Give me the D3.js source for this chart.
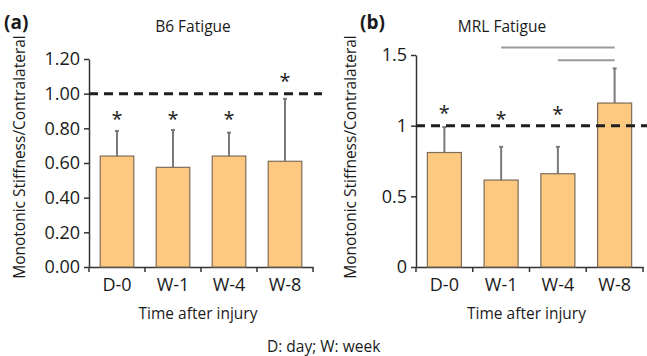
<!DOCTYPE html>
<meta charset="utf-8">
<html>
<head>
<script src="https://d3js.org/d3.v7.min.js"></script>
<style>
  body { margin: 0; background: #fff; }
  svg text { font-family: "Open Sans", sans-serif; fill: #1a1a1a; }
</style>
</head>
<body>
<div id="chart"></div>
<script>
// categories shared by both panels
const categories = ["D-0", "W-1", "W-4", "W-8"];

// (a) B6 fatigue: mean and SD (upper whisker only)
const b6Means = [0.64, 0.575, 0.64, 0.61];
const b6SD = [0.145, 0.215, 0.135, 0.36];
const b6Stars = [0.88, 0.88, 0.88, 1.10];   // asterisk heights
const b6Ticks = [0, 0.2, 0.4, 0.6, 0.8, 1.0, 1.2];

// (b) MRL fatigue
const mrlMeans = [0.81, 0.615, 0.66, 1.16];
const mrlSD = [0.18, 0.235, 0.19, 0.245];
const mrlStars = [1.12, 1.075, 1.11, null];
const mrlTicks = [0, 0.5, 1, 1.5];
// significance lines: from, to, height
const mrlBrackets = [["W-1", "W-8", 1.553], ["W-4", "W-8", 1.463]];

const width = 647, height = 356;

const svg = d3.select("#chart").append("svg")
    .attr("width", width)
    .attr("height", height)
    .attr("viewBox", [0, 0, width, height]);

function drawPanel(opt) {
    const x = d3.scaleBand(categories, [opt.left, opt.right])
        .paddingInner(0.4).paddingOuter(0.2);
    const y = d3.scaleLinear(opt.yDomain, [267, opt.yTop]);
    const g = svg.append("g");

    // y axis
    g.append("g")
        .attr("transform", `translate(${opt.left},0)`)
        .call(d3.axisLeft(y).tickValues(opt.ticks).tickFormat(opt.fmt)
            .tickSize(5).tickPadding(4).tickSizeOuter(0))
        .call(a => a.selectAll("path, line").attr("stroke", "#333").attr("stroke-width", 1.5))
        .call(a => a.selectAll("text").attr("font-size", 18)
            .attr("font-family", "'Open Sans', sans-serif").attr("fill", "#1a1a1a"));

    // x axis: labels in band centres, ticks at band boundaries
    g.append("g")
        .attr("transform", `translate(0,${y(0)})`)
        .call(d3.axisBottom(x).tickSize(0).tickPadding(11))
        .call(a => a.select(".domain").attr("stroke", "#333").attr("stroke-width", 1.5))
        .call(a => a.selectAll("text").attr("font-size", 18)
            .attr("font-family", "'Open Sans', sans-serif").attr("fill", "#1a1a1a"));
    g.append("g").selectAll("line")
        .data(d3.range(categories.length + 1))
        .join("line")
        .attr("x1", i => opt.left + i * x.step())
        .attr("x2", i => opt.left + i * x.step())
        .attr("y1", y(0))
        .attr("y2", y(0) + 5)
        .attr("stroke", "#333").attr("stroke-width", 1.5);

    // error bars
    const eb = g.append("g").attr("stroke", "#7a7a7a").attr("stroke-width", 2);
    eb.selectAll("line.v").data(categories).join("line")
        .attr("class", "v")
        .attr("x1", d => x(d) + x.bandwidth() / 2)
        .attr("x2", d => x(d) + x.bandwidth() / 2)
        .attr("y1", (d, i) => y(opt.means[i]))
        .attr("y2", (d, i) => y(opt.means[i] + opt.sd[i]));
    eb.selectAll("line.c").data(categories).join("line")
        .attr("class", "c")
        .attr("x1", d => x(d) + x.bandwidth() / 2 - 2)
        .attr("x2", d => x(d) + x.bandwidth() / 2 + 2)
        .attr("y1", (d, i) => y(opt.means[i] + opt.sd[i]))
        .attr("y2", (d, i) => y(opt.means[i] + opt.sd[i]));

    // bars
    g.append("g").selectAll("rect").data(categories).join("rect")
        .attr("x", d => x(d))
        .attr("y", (d, i) => y(opt.means[i]))
        .attr("width", x.bandwidth())
        .attr("height", (d, i) => y(0) - y(opt.means[i]))
        .attr("fill", "#fdc981")
        .attr("stroke", "#7d6c58")
        .attr("stroke-width", 1.2);

    // reference line at 1
    g.append("line")
        .attr("x1", opt.left).attr("x2", opt.dashEnd)
        .attr("y1", y(1)).attr("y2", y(1))
        .attr("stroke", "#1e1e1e").attr("stroke-width", 3)
        .attr("stroke-dasharray", "9,6");

    // asterisks
    const starSize = 20;
    g.append("g").selectAll("text")
        .data(categories.map((c, i) => [c, opt.stars[i]]).filter(d => d[1] != null))
        .join("text")
        .attr("x", d => x(d[0]) + x.bandwidth() / 2)
        .attr("y", d => y(d[1]) + starSize * 0.56)
        .attr("text-anchor", "middle")
        .attr("font-size", starSize)
        .text("*");

    // significance lines
    if (opt.brackets) {
        g.append("g").selectAll("line").data(opt.brackets).join("line")
            .attr("x1", d => x(d[0]) + x.bandwidth() / 2)
            .attr("x2", d => x(d[1]) + x.bandwidth() / 2)
            .attr("y1", d => y(d[2])).attr("y2", d => y(d[2]))
            .attr("stroke", "#9a9a9a").attr("stroke-width", 2);
    }

    // titles and labels
    g.append("text")
        .attr("x", opt.letterX).attr("y", 29)
        .attr("font-family", "'Liberation Sans', Arial, sans-serif")
        .attr("font-weight", "bold").attr("font-size", 19)
        .text(opt.letter);
    g.append("text")
        .attr("x", opt.titleX).attr("y", 32)
        .attr("text-anchor", "middle").attr("font-size", 15.5)
        .text(opt.title);
    g.append("text")
        .attr("transform", `translate(${opt.labelX},157) rotate(-90)`)
        .attr("text-anchor", "middle").attr("font-size", 15.5)
        .text("Monotonic Stiffness/Contralateral");
    g.append("text")
        .attr("x", (opt.left + opt.right) / 2 - 3).attr("y", 319)
        .attr("text-anchor", "middle").attr("font-size", 15.5)
        .text("Time after injury");
}

drawPanel({
    left: 89, right: 313, yDomain: [0, 1.2], yTop: 59,
    ticks: b6Ticks, fmt: d3.format(".2f"),
    means: b6Means, sd: b6SD, stars: b6Stars,
    dashEnd: 322, letter: "(a)", letterX: 4,
    title: "B6 Fatigue", titleX: 193, labelX: 25
});

drawPanel({
    left: 416, right: 643, yDomain: [0, 1.5], yTop: 55,
    ticks: mrlTicks, fmt: d3.format(""),
    means: mrlMeans, sd: mrlSD, stars: mrlStars,
    brackets: mrlBrackets,
    dashEnd: 647, letter: "(b)", letterX: 360,
    title: "MRL Fatigue", titleX: 502, labelX: 356
});

svg.append("text")
    .attr("x", 267).attr("y", 352)
    .attr("font-size", 15.5)
    .text("D: day; W: week");
</script>
</body>
</html>
